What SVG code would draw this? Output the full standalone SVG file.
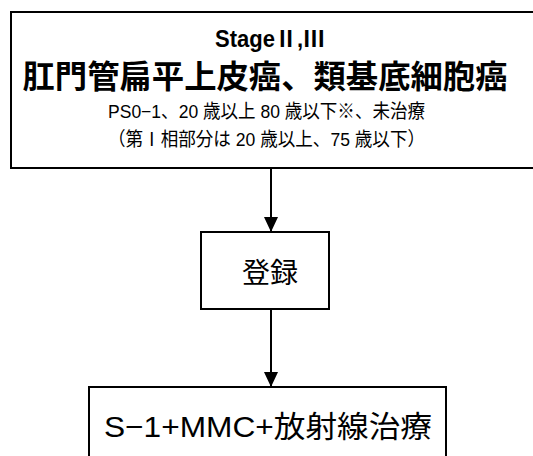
<svg xmlns="http://www.w3.org/2000/svg" width="533" height="456" viewBox="0 0 533 456">
<style>
.box{fill:#fff;stroke:#000;stroke-width:2}
.t{font-family:"Liberation Sans","Noto Sans CJK JP",sans-serif;fill:#000;text-anchor:middle}
.b{font-weight:bold}
.conn{stroke:#000;stroke-width:2;fill:none}
</style>
<defs>
<marker id="ah" markerUnits="userSpaceOnUse" markerWidth="14" markerHeight="16" refX="15" refY="7" orient="auto">
<path d="M0,0 L15,7 L0,14 Z" fill="#000"/>
</marker>
</defs>
<g id="node-top">
<rect class="box" x="11" y="12" width="530" height="156"/>
<text class="t b" x="270" y="47" font-size="23" textLength="110" lengthAdjust="spacingAndGlyphs">StageⅡ,Ⅲ</text>
<text class="t b" x="265" y="88" font-size="32" textLength="485" lengthAdjust="spacingAndGlyphs">肛門管扁平上皮癌、類基底細胞癌</text>
<text class="t" x="266.5" y="118" font-size="19" textLength="317" lengthAdjust="spacingAndGlyphs">PS0−1、20 歳以上 80 歳以下※、未治療</text>
<text class="t" x="266.5" y="146" font-size="19" textLength="317" lengthAdjust="spacingAndGlyphs">（第Ⅰ相部分は 20 歳以上、75 歳以下）</text>
</g>
<g id="node-register">
<rect class="box" x="201" y="232" width="128" height="77"/>
<text class="t" x="270" y="283" font-size="28">登録</text>
</g>
<g id="node-treatment">
<rect class="box" x="89" y="387" width="357" height="80"/>
<text class="t" x="268" y="437" font-size="30" textLength="328" lengthAdjust="spacingAndGlyphs">S−1+MMC+放射線治療</text>
</g>
<g id="connectors">
<line class="conn" x1="271" y1="168" x2="271" y2="232" marker-end="url(#ah)"/>
<line class="conn" x1="271" y1="309" x2="271" y2="387" marker-end="url(#ah)"/>
</g>
</svg>
